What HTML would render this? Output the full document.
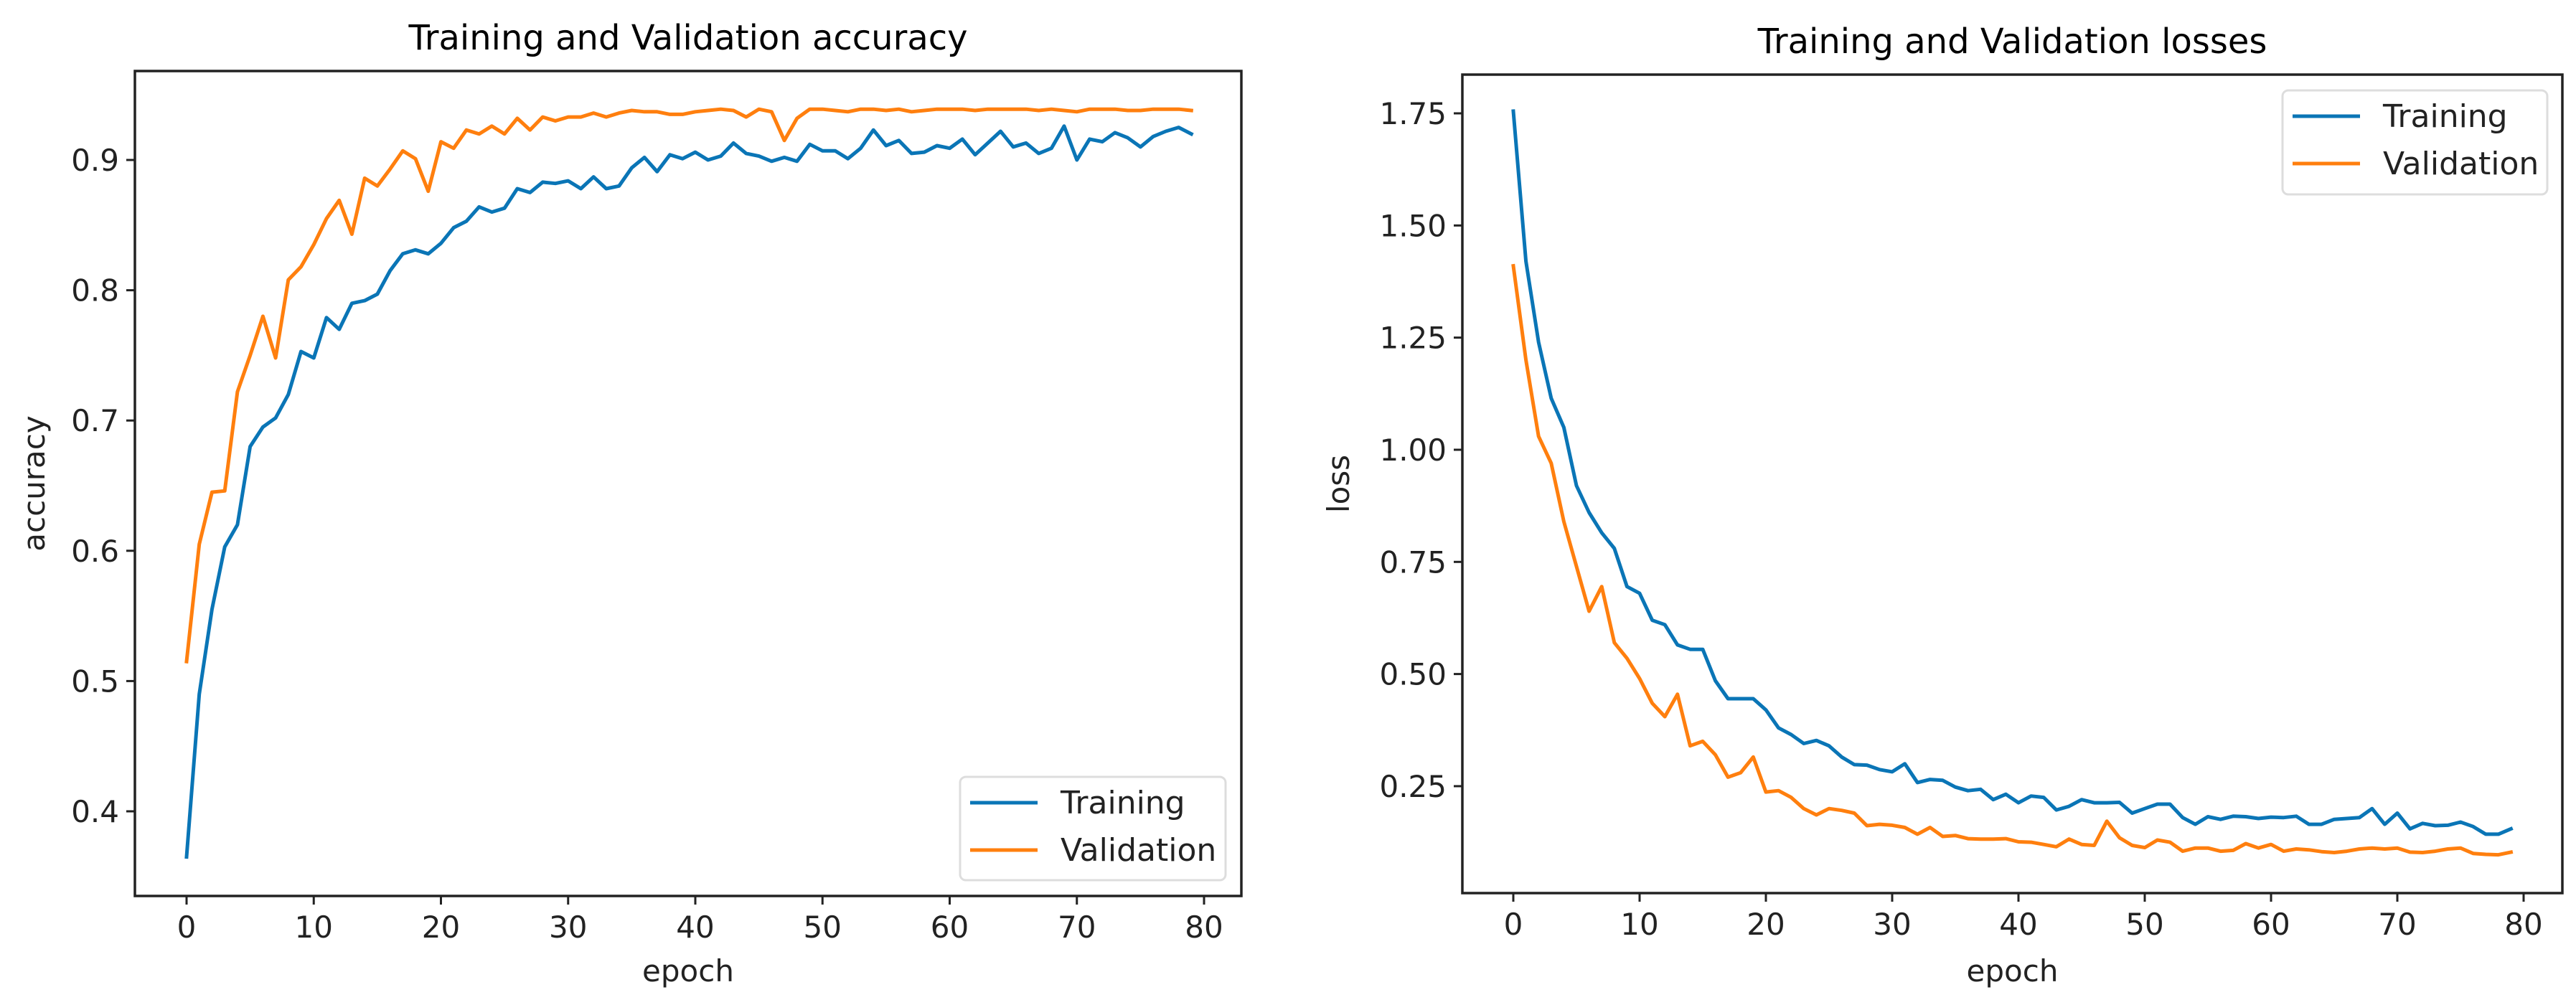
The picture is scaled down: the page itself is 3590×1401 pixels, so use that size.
<!DOCTYPE html>
<html><head><meta charset="utf-8"><style>
html,body{margin:0;padding:0;background:#fff;}
svg{display:block;font-family:"DejaVu Sans","Liberation Sans",sans-serif;}
</style></head><body>
<svg id="fig" width="3590" height="1401" viewBox="0 0 3590 1401" xmlns="http://www.w3.org/2000/svg">
<rect width="3590" height="1401" fill="#fff"/>
<g id="left"></g>
<g id="right"></g>
</svg>
<script>
const epochs = Array.from({length:80},(_,i)=>i);
const accTrain = [0.365,0.49,0.555,0.603,0.62,0.68,0.695,0.702,0.72,0.753,0.748,0.779,0.77,0.79,0.792,0.797,0.815,0.828,0.831,0.828,0.836,0.848,0.853,0.864,0.86,0.863,0.878,0.875,0.883,0.882,0.884,0.878,0.887,0.878,0.88,0.894,0.902,0.891,0.904,0.901,0.906,0.9,0.903,0.913,0.905,0.903,0.899,0.902,0.899,0.912,0.907,0.907,0.901,0.909,0.923,0.911,0.915,0.905,0.906,0.911,0.909,0.916,0.904,0.913,0.922,0.91,0.913,0.905,0.909,0.926,0.9,0.916,0.914,0.921,0.917,0.91,0.918,0.922,0.925,0.92];
const accVal = [0.515,0.605,0.645,0.646,0.722,0.75,0.78,0.748,0.808,0.818,0.835,0.855,0.869,0.843,0.886,0.88,0.893,0.907,0.901,0.876,0.914,0.909,0.923,0.92,0.926,0.92,0.932,0.923,0.933,0.93,0.933,0.933,0.936,0.933,0.936,0.938,0.937,0.937,0.935,0.935,0.937,0.938,0.939,0.938,0.933,0.939,0.937,0.915,0.932,0.939,0.939,0.938,0.937,0.939,0.939,0.938,0.939,0.937,0.938,0.939,0.939,0.939,0.938,0.939,0.939,0.939,0.939,0.938,0.939,0.938,0.937,0.939,0.939,0.939,0.938,0.938,0.939,0.939,0.939,0.938];
const lossTrain = [1.755,1.42,1.24,1.115,1.05,0.92,0.86,0.815,0.78,0.695,0.68,0.62,0.61,0.565,0.555,0.555,0.485,0.445,0.445,0.445,0.42,0.38,0.365,0.345,0.352,0.34,0.315,0.298,0.297,0.287,0.282,0.3,0.258,0.265,0.263,0.248,0.24,0.243,0.22,0.232,0.213,0.228,0.225,0.197,0.205,0.22,0.213,0.213,0.214,0.19,0.2,0.21,0.21,0.18,0.165,0.182,0.176,0.183,0.182,0.178,0.181,0.18,0.183,0.165,0.165,0.176,0.178,0.18,0.2,0.165,0.19,0.155,0.167,0.162,0.163,0.17,0.16,0.143,0.143,0.155];
const lossVal = [1.41,1.2,1.03,0.97,0.84,0.74,0.64,0.695,0.57,0.535,0.49,0.435,0.405,0.455,0.34,0.35,0.32,0.27,0.28,0.315,0.237,0.24,0.225,0.2,0.186,0.2,0.196,0.19,0.162,0.165,0.163,0.158,0.143,0.158,0.138,0.14,0.133,0.132,0.132,0.133,0.126,0.125,0.12,0.115,0.132,0.12,0.118,0.172,0.135,0.118,0.113,0.13,0.125,0.105,0.112,0.112,0.105,0.107,0.122,0.112,0.12,0.105,0.11,0.108,0.104,0.102,0.105,0.11,0.112,0.11,0.112,0.103,0.102,0.105,0.11,0.112,0.1,0.098,0.097,0.103];
const xTicks = [0,10,20,30,40,50,60,70,80];
const accTicks = [0.4,0.5,0.6,0.7,0.8,0.9];
const lossTicks = [0.25,0.5,0.75,1.0,1.25,1.5,1.75];
const lossTickLabels = ["0.25","0.50","0.75","1.00","1.25","1.50","1.75"];

const NS="http://www.w3.org/2000/svg";
function mk(parent,tag,attrs){const e=document.createElementNS(NS,tag);for(const k in attrs)e.setAttribute(k,attrs[k]);parent.appendChild(e);return e;}

function chart(g,cfg){
  const {box,x0,xs,y0v,y0,ys,title,ylabel,yTicks,yLabels,series,legend}=cfg;
  const X=v=>x0+v*xs, Y=v=>y0+(y0v-v)*ys;
  const t=mk(g,'text',{x:(box[0]+box[2])/2,y:box[1]-30,'text-anchor':'middle','font-size':48,fill:'#000'});
  t.textContent=title;
  
  
  series.forEach(s=>{
    const pts=s.data.map((v,i)=>X(epochs[i]).toFixed(1)+','+Y(v).toFixed(1)).join(' ');
    const p=mk(g,'polyline',{points:pts,fill:'none',stroke:s.color,'stroke-width':5,'stroke-linejoin':'round','stroke-linecap':'square'});
    
    
  });
  const fr=mk(g,'rect',{x:box[0],y:box[1],width:box[2]-box[0],height:box[3]-box[1],fill:'none',stroke:'#222','stroke-width':3.5});
  
  
  xTicks.forEach(v=>{
    mk(g,'line',{x1:X(v),x2:X(v),y1:box[3],y2:box[3]+12,stroke:'#222','stroke-width':3});
    const tx=mk(g,'text',{x:X(v),y:box[3]+58,'text-anchor':'middle','font-size':42,fill:'#222'});
    tx.textContent=v;
    
    
  });
  yTicks.forEach((v,i)=>{
    mk(g,'line',{x1:box[0]-12,x2:box[0],y1:Y(v),y2:Y(v),stroke:'#222','stroke-width':3});
    const ty=mk(g,'text',{x:box[0]-22,y:Y(v)+15,'text-anchor':'end','font-size':42,fill:'#222'});
    ty.textContent=yLabels[i];
    
    
  });
  const xl=mk(g,'text',{x:(box[0]+box[2])/2,y:1368,'text-anchor':'middle','font-size':42,fill:'#222'});
  xl.textContent='epoch';
  
  
  const yl=mk(g,'text',{x:cfg.ylx,y:(box[1]+box[3])/2,'text-anchor':'middle','font-size':42,fill:'#222',transform:`rotate(-90 ${cfg.ylx} ${(box[1]+box[3])/2})`});
  yl.textContent=ylabel;
  
  
  const L=legend;
  const lg=mk(g,'g',{});
  
  
  mk(lg,'rect',{x:L[0],y:L[1],width:L[2],height:L[3],rx:8,fill:'#fff',stroke:'#ddd','stroke-width':3});
  series.forEach((s,i)=>{
    const yy=L[1]+36+i*66;
    mk(lg,'line',{x1:L[0]+14,x2:L[0]+108,y1:yy,y2:yy,stroke:s.color,'stroke-width':5});
    const lt=mk(lg,'text',{x:L[0]+140,y:yy+15,'font-size':44,fill:'#222'});
    lt.textContent=s.label;
    
    
  });
}
const BLUE='#0a75b6', ORANGE='#ff7f0e';
chart(document.getElementById('left'),{box:[188,99,1730,1249],x0:260,xs:17.725,y0v:0.9,y0:223,ys:1816,
  title:'Training and Validation accuracy',ylabel:'accuracy',ylx:62,yTicks:accTicks,yLabels:accTicks.map(v=>v.toFixed(1)),
  series:[{data:accTrain,color:BLUE,name:'training-accuracy-line',label:'Training'},{data:accVal,color:ORANGE,name:'validation-accuracy-line',label:'Validation'}],
  legend:[1338,1083,370,144]});
chart(document.getElementById('right'),{box:[2038,104,3571,1245],x0:2109,xs:17.6,y0v:1.75,y0:158,ys:625.3,
  title:'Training and Validation losses',ylabel:'loss',ylx:1880,yTicks:lossTicks,yLabels:lossTickLabels,
  series:[{data:lossTrain,color:BLUE,name:'training-loss-line',label:'Training'},{data:lossVal,color:ORANGE,name:'validation-loss-line',label:'Validation'}],
  legend:[3181,126,369,145]});
</script>
</body></html>
